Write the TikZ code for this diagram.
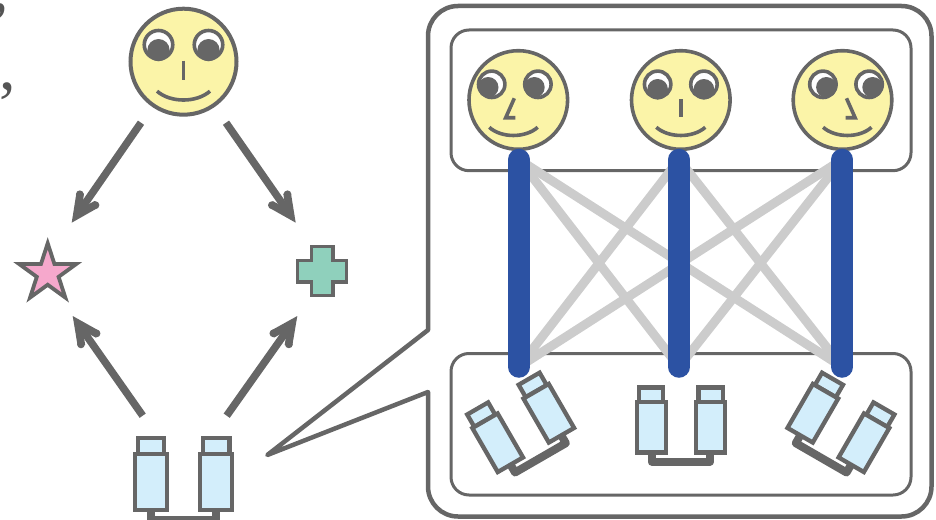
\documentclass[tikz,border=0pt]{standalone}
\usepackage{fontspec}
\setmainfont{Liberation Serif}
\usetikzlibrary{calc,shapes.geometric}
\definecolor{ink}{HTML}{666666}
\definecolor{txtink}{HTML}{555555}
\definecolor{facey}{HTML}{FBF4A8}
\definecolor{barblue}{HTML}{2C52A3}
\definecolor{sensorb}{HTML}{D3EEFB}
\definecolor{linkg}{HTML}{CCCCCC}
\definecolor{starp}{HTML}{F6A8CC}
\definecolor{crossg}{HTML}{8FD0BC}
\tikzset{
  headbig/.style={circle,draw=ink,fill=facey,line width=4pt,inner sep=0pt,minimum size=106pt},
  headsmall/.style={circle,draw=ink,fill=facey,line width=3.6pt,inner sep=0pt,minimum size=98.6pt},
  panelline/.style={draw=ink,line width=3pt,rounded corners=18pt},
  shaftline/.style={draw=ink,line width=7.5pt,shorten >=10pt},
  barline/.style={draw=barblue,line width=21.5pt,line cap=round},
  linkline/.style={draw=linkg,line width=9pt},
  featline/.style={ink,line width=3.6pt},
  pics/frontfeatures/.style={code={
    \draw[featline,fill=white] (-23.15,-15.7) circle[radius=13.2];
    \draw[featline,fill=white] (23.15,-15.7) circle[radius=13.2];
    \fill[ink] (-23.15,-10.7) circle[radius=10.3];
    \fill[ink] (23.15,-10.7) circle[radius=10.3];
    \draw[featline] (0,-1) -- (0,17.3);
    \draw[featline] (-24.5,27.3) .. controls (-12,38.2) and (12,38.2) .. (24.5,27.3);
  }},
  pics/sidefeatures/.style={code={
    \draw[featline,fill=white] (-26.6,-15.7) circle[radius=13.2];
    \draw[featline,fill=white] (19.6,-15.7) circle[radius=13.2];
    \fill[ink] (-30.1,-12.7) circle[radius=10.3];
    \fill[ink] (16.1,-12.7) circle[radius=10.3];
    \draw[featline,miter limit=10] (-4,-1.7) -- (-12.6,17.7) -- (-3,17.7);
    \draw[featline] (-29,27.3) .. controls (-17,38.2) and (7,38.2) .. (19.4,27.3);
  }},
  pics/sensorpair/.style={code={
    \draw[ink,line width=8pt,line join=round] (-29.3,-1) -- (-29.3,7.3) -- (29.3,7.3) -- (29.3,-1);
    \foreach \s in {-1,1}{
      \draw[ink,line width=4.3pt,fill=sensorb] (\s*17.6,-52.55) -- (\s*17.6,-66.85) -- (\s*41.8,-66.85) -- (\s*41.8,-52.55) -- cycle;
      \draw[ink,line width=4.3pt,fill=sensorb] (\s*14.9,-1.75) rectangle (\s*44.1,-52.55);
    }
  }},
}
\newcommand{\fatarrow}[2]{%
  \draw[shaftline] (#1) -- (#2);
  \fill[ink] (#2) -- ($(#2)!27pt!(#1)!13pt!90:(#1)$) -- ($(#2)!31pt!(#1)!6.5pt!90:(#1)$)
    -- ($(#2)!18pt!(#1)$) -- ($(#2)!31pt!(#1)!6.5pt!-90:(#1)$) -- ($(#2)!27pt!(#1)!13pt!-90:(#1)$) -- cycle;
  \fill[ink] ($(#2)!28pt!(#1)!9.5pt!90:(#1)$) circle[radius=3.9pt];
  \fill[ink] ($(#2)!28pt!(#1)!9.5pt!-90:(#1)$) circle[radius=3.9pt];
}
\begin{document}
\begin{tikzpicture}[x=1pt,y=-1pt]
\useasboundingbox (0,0) rectangle (936,519);
% clipped punctuation at the left edge
\node[anchor=base west,inner sep=0pt,text=txtink,font=\fontsize{66}{66}\selectfont] (commaA) at (-7.9,10.7) {,};
\node[anchor=base west,inner sep=0pt,text=txtink,font=\fontsize{66}{66}\selectfont] (commaB) at (-0.7,89.7) {,};
% left diagram
\node[headbig] (bigface) at (183.5,61.7) {};
\pic[scale=1.08] at (183.5,61.7) {frontfeatures};
\node[star,star points=5,star point ratio=2.618,draw=ink,fill=starp,line width=3.8pt,inner sep=0pt,minimum size=60pt] (starnode) at (47.7,273.3) {};
\draw[ink,line width=3.8pt,fill=crossg] (311.5,246.5) -- (333,246.5) -- (333,260.5) -- (346.5,260.5) -- (346.5,282) -- (333,282) -- (333,295.5) -- (311.5,295.5) -- (311.5,282) -- (297.5,282) -- (297.5,260.5) -- (311.5,260.5) -- cycle;
\coordinate (crossnode) at (322,271);
\pic[scale=1.1] at (183.65,511.7) {sensorpair};
\coordinate (a1s) at (141,122.7);   \coordinate (a1e) at (71.7,222.7);
\coordinate (a2s) at (226,122.7);   \coordinate (a2e) at (295.7,222.7);
\coordinate (a3s) at (142.7,415.7); \coordinate (a3e) at (72.7,316);
\coordinate (a4s) at (226.7,415.7); \coordinate (a4e) at (297.3,316);
\fatarrow{a1s}{a1e}
\fatarrow{a2s}{a2e}
\fatarrow{a3s}{a3e}
\fatarrow{a4s}{a4e}
% callout panel
\coordinate (tip) at (267.3,455);
\draw[ink,line width=4.5pt,line join=round]
  (tip) -- (428,330) -- (428,300)
  [rounded corners=30pt] -- (428,6) -- (931.5,6) -- (931.5,516.5) -- (428,516.5)
  [sharp corners] -- (428,392) -- cycle;
% inner panels
\draw[panelline] (451,30) rectangle (911,170.7);
\draw[panelline] (451,353.5) rectangle (911,495);
% links
\coordinate (t1) at (518.8,159.5); \coordinate (t2) at (679,159.5); \coordinate (t3) at (842.2,159.5);
\coordinate (b1) at (518.8,367);   \coordinate (b2) at (679,367);   \coordinate (b3) at (842.2,367);
\foreach \i/\j in {t1/b2,t1/b3,t2/b1,t2/b3,t3/b1,t3/b2}{\draw[linkline] (\i) -- (\j);}
% faces
\node[headsmall] (faceA) at (518.3,100) {};
\pic at (518.3,100) {sidefeatures};
\node[headsmall] (faceB) at (680.8,100) {};
\pic at (680.8,100) {frontfeatures};
\node[headsmall] (faceC) at (842.5,100) {};
\pic[xscale=-1] at (842.5,100) {sidefeatures};
% strong links
\draw[barline] (t1) -- (b1);
\draw[barline] (t2) -- (b2);
\draw[barline] (t3) -- (b3);
% sensors
\pic[rotate=30] at (536.8,451.5) {sensorpair};
\pic at (680.85,454.3) {sensorpair};
\pic[rotate=-30] at (824.8,451.5) {sensorpair};
\end{tikzpicture}
\end{document}
